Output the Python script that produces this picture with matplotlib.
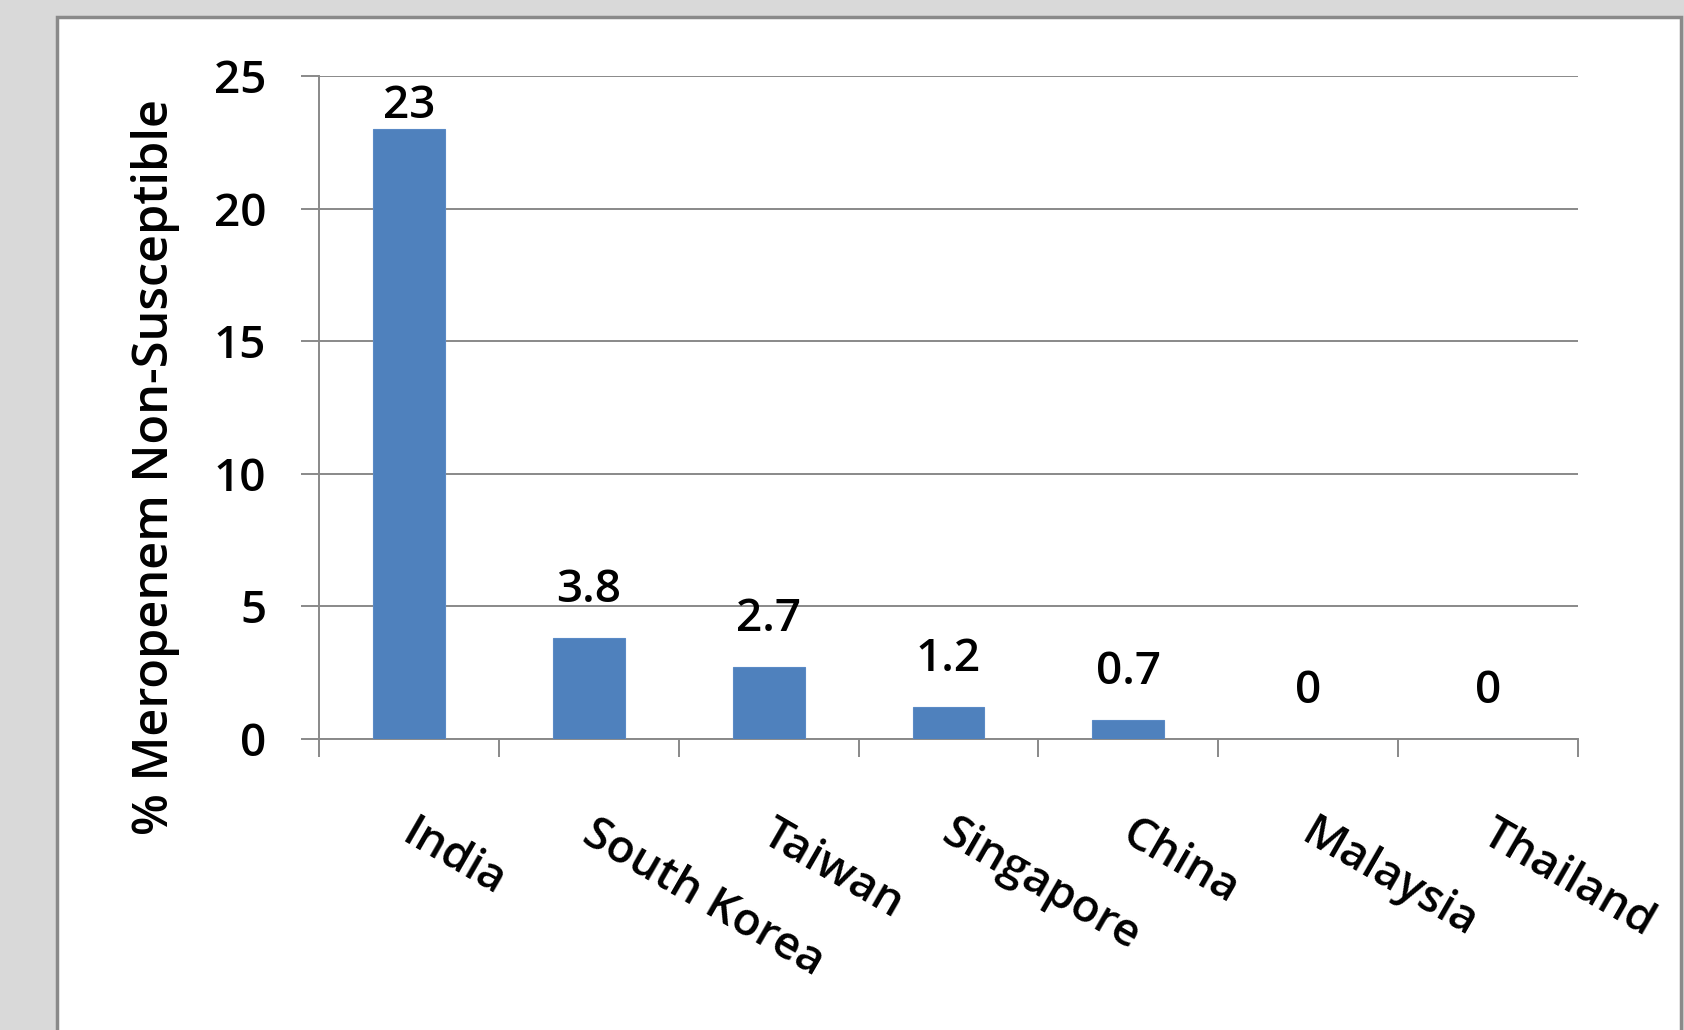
import matplotlib
matplotlib.use('Agg')
import matplotlib.pyplot as plt
import numpy as np
from matplotlib.patches import Rectangle
from matplotlib.transforms import ScaledTranslation

# データ
countries = ['India', 'South Korea', 'Taiwan', 'Singapore', 'China', 'Malaysia', 'Thailand']
values = [23, 3.8, 2.7, 1.2, 0.7, 0, 0]
value_labels = ['23', '3.8', '2.7', '1.2', '0.7', '0', '0']
yticks = [0, 5, 10, 15, 20, 25]

plt.rcParams['font.family'] = ['Open Sans', 'DejaVu Sans']
plt.rcParams['font.weight'] = 'semibold'
plt.rcParams['axes.labelweight'] = 'semibold'

W, H = 1684, 1030
fig = plt.figure(figsize=(W / 100, H / 100), dpi=100)
fig.patch.set_facecolor('#d9d9d9')

# 白いパネル（枠付き）
panel = Rectangle((57 / W, -0.05), (1681 - 57) / W, 1.05 - 17 / H,
                  transform=fig.transFigure, facecolor='white',
                  edgecolor='#8a8a8a', linewidth=2.5, zorder=-10)
fig.patches.append(panel)

ax = fig.add_axes([319 / W, (H - 739) / H, (1578 - 319) / W, (739 - 76) / H])
ax.set_facecolor('none')

x = np.arange(len(countries))
ax.bar(x, values, width=0.40, color='#4f81bd', edgecolor='#5a8ac6',
       linewidth=0.8, zorder=3)

ax.set_xlim(-0.5, len(countries) - 0.5)
ax.set_ylim(0, 25)

grid_color = '#898989'
ax.set_yticks(yticks)
ax.set_yticklabels([str(t) for t in yticks])
ax.yaxis.grid(True, color=grid_color, linewidth=1.4, zorder=1)
ax.set_axisbelow(True)

# 軸の体裁
for side in ['top', 'right']:
    ax.spines[side].set_visible(False)
for side in ['left', 'bottom']:
    ax.spines[side].set_color(grid_color)
    ax.spines[side].set_linewidth(1.4)

ax.tick_params(axis='y', direction='out', length=13, width=1.4,
               color=grid_color, labelsize=33, pad=25)
# x目盛りはカテゴリの境界
ax.set_xticks(np.arange(-0.5, len(countries), 1.0), minor=False)
ax.set_xticklabels([''] * (len(countries) + 1))
ax.set_xticks(x, minor=True)
ax.set_xticklabels(countries, minor=True, rotation=-30, ha='left',
                   va='top', rotation_mode='anchor')
ax.tick_params(axis='x', which='major', direction='out', length=13,
               width=1.4, color=grid_color)
ax.tick_params(axis='x', which='minor', length=0, labelsize=33, pad=52)
for lbl in ax.get_xticklabels(minor=True):
    lbl.set_transform(lbl.get_transform() +
                      ScaledTranslation(0.08, 0, fig.dpi_scale_trans))

# y軸ラベル
ax.set_ylabel('% Meropenem Non-Susceptible', fontsize=35, fontweight='semibold')
ax.yaxis.set_label_coords(-0.130, 0.41)
ax.yaxis.label.set_va('center')

# データラベル
for xi, v, s in zip(x, values, value_labels):
    ly = min(v + 1.36, 23.4)
    ax.text(xi, ly, s, ha='center', va='baseline', fontsize=33, zorder=4)

fig.savefig('out.png', dpi=100, facecolor=fig.get_facecolor())
